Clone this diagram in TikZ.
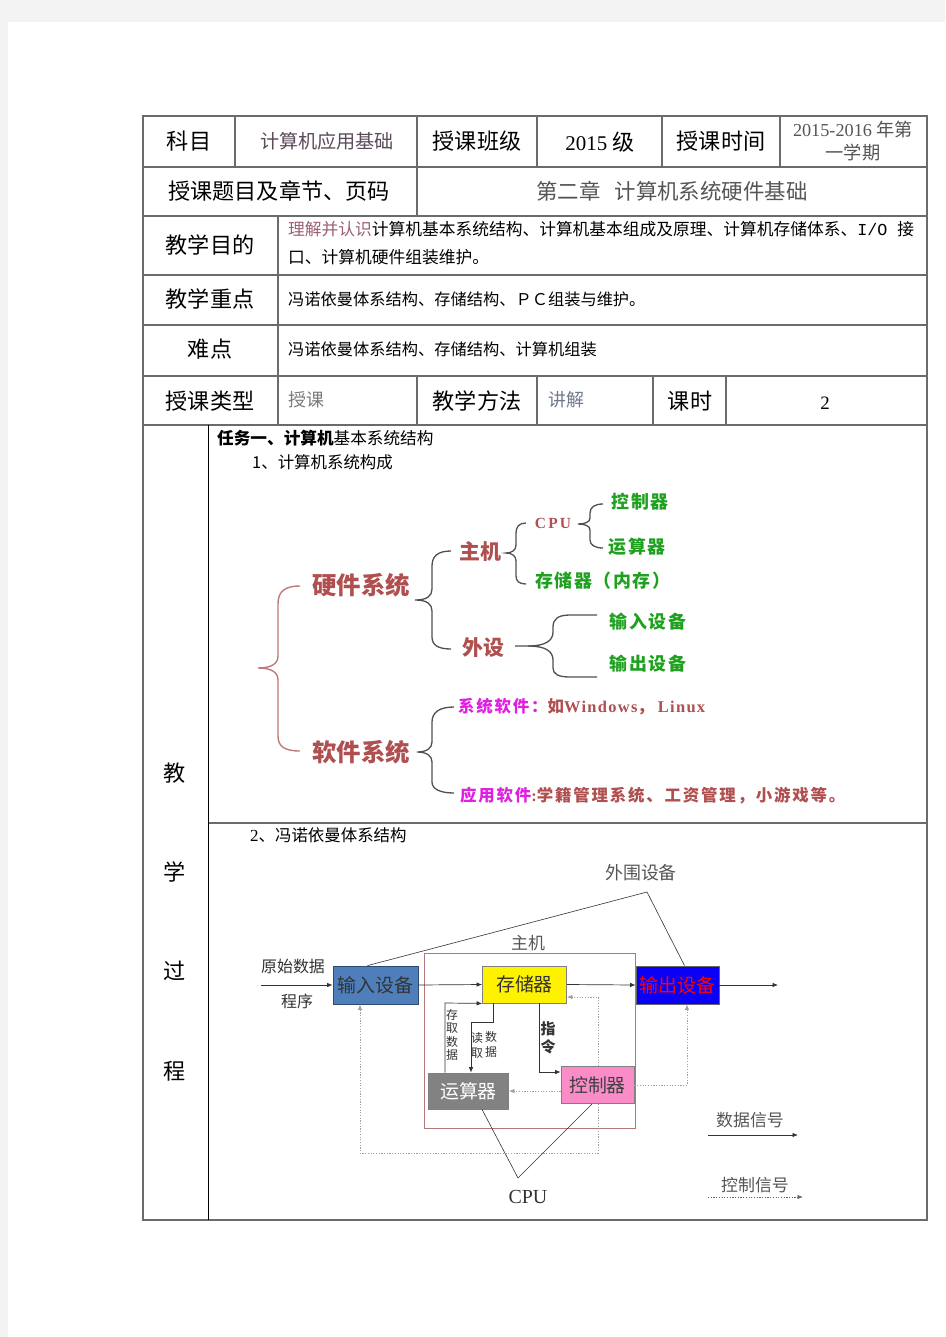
\documentclass[tikz,border=0pt]{standalone}
\usepackage{fontspec}
\setmainfont{Liberation Serif}
\newfontfamily\cjk{Noto Sans CJK SC}
\newfontfamily\cjksp{Noto Sans CJK SC}[LetterSpace=9]
\newfontfamily\cjkspb{Noto Sans CJK SC}[LetterSpace=11]
\newfontfamily\serifsp{Liberation Serif}[LetterSpace=14]
\newfontfamily\serifspb{Liberation Serif}[LetterSpace=8]
\newfontfamily\lmono{Liberation Mono}
\usetikzlibrary{arrows.meta,calc}
\newcommand\myfs[1]{\fontsize{#1}{#1}\selectfont}
\definecolor{pagegray}{HTML}{F3F3F3}
\definecolor{tblline}{HTML}{6B6B6B}
\definecolor{brred}{HTML}{B04F4F}
\definecolor{grn}{HTML}{1FA11F}
\definecolor{mag}{HTML}{E020E0}
\definecolor{txtgray}{HTML}{555555}
\definecolor{subjcol}{HTML}{5A4A5A}
\definecolor{pinkbrown}{HTML}{9A6070}
\definecolor{lightgray}{HTML}{7A7A7A}
\definecolor{bluegray}{HTML}{707A8A}
\definecolor{bigbrace}{HTML}{C27878}
\definecolor{braceg}{HTML}{505050}
\definecolor{inblue}{HTML}{4F7FBB}
\definecolor{outblue}{HTML}{0A00F5}
\definecolor{ysgray}{HTML}{828282}
\definecolor{kzpink}{HTML}{FA8CC8}
\definecolor{zjred}{HTML}{B07878}
\definecolor{dotgray}{HTML}{A0A0A0}
\definecolor{arrcol}{HTML}{333333}
\begin{document}
\begin{tikzpicture}[x=1bp,y=-1bp,
  hdr/.style={font=\cjk\myfs{22.2}, inner sep=0pt, text=black},
  cell/.style={font=\cjk\myfs{16.3}, anchor=west, inner sep=0pt, text=black},
  tbl/.style={draw=tblline, line width=1.5bp},
  bracebig/.style={draw=bigbrace, line width=1.4bp},
  braceline/.style={draw=braceg, line width=1.3bp},
  brtxt/.style={font=\cjk\bfseries\myfs{21}, text=brred, inner sep=0pt},
  gtxt/.style={font=\cjksp\bfseries\myfs{18}, text=grn, inner sep=0pt},
  swtxt/.style={font=\cjkspb\bfseries\myfs{16.5}, anchor=west, inner sep=0pt},
  lbl/.style={font=\cjk\myfs{17}, text=txtgray, inner sep=0pt},
  box/.style={draw=#1, line width=0.8bp, inner sep=0pt, font=\cjk\myfs{19}},
  arr/.style={-{Latex[length=5.5bp,width=4.5bp]}, line width=0.7bp, draw=arrcol},
  ctl/.style={-{Latex[length=5.5bp,width=4.5bp]}, line width=0.8bp, draw=dotgray, dash pattern=on 1.2bp off 1.5bp},
  plain/.style={line width=0.7bp, draw=arrcol}
]
\useasboundingbox (0,0) rectangle (945,1337);
\fill[pagegray] (0,0) rectangle (945,1337);
\fill[white] (8,22) rectangle (945,1337);

% ---------------- table ----------------
\draw[tbl] (143,116) rectangle (927,1220);
\foreach \yy in {167,216,275,325,376,425} \draw[tbl] (143,\yy) -- (927,\yy);
\draw[tbl] (208,823) -- (927,823);
\foreach \xx in {235,417,537,662,780} \draw[tbl] (\xx,116) -- (\xx,167);
\draw[tbl] (417,167) -- (417,216);
\draw[tbl] (278,216) -- (278,425);
\foreach \xx in {417,537,653,726} \draw[tbl] (\xx,376) -- (\xx,425);
\draw[black, line width=1bp] (208,425) -- (208,1220);

% row 1
\node[hdr] (kemu) at (189,141) {科目};
\node[hdr, font=\cjk\myfs{19.2}, text=subjcol] (kcname) at (327,141) {计算机应用基础};
\node[hdr] (bj) at (477,141) {授课班级};
\node[hdr] (nj) at (600,142) {{\rmfamily\myfs{21}2015 }级};
\node[hdr] (sj) at (721,141) {授课时间};
\node[hdr, align=center, font=\cjk\myfs{18.3}, text=txtgray] (xq) at (853,141)
  {{\rmfamily 2015-2016 }年第\\[4bp]一学期};
% row 2
\node[hdr] (tm) at (279,191) {授课题目及章节、页码};
\node[hdr, font=\cjk\myfs{21.5}, text=txtgray] (zj) at (672,191) {第二章\hspace{14bp}计算机系统硬件基础};
% row 3
\node[hdr] (md) at (210,245) {教学目的};
\node[cell, font=\cjk\myfs{16.8}] (md1) at (288,229) {{\color{pinkbrown}理解并认识}计算机基本系统结构、计算机基本组成及原理、计算机存储体系、{\lmono I/O }接};
\node[cell, font=\cjk\myfs{16.8}] (md2) at (288,257) {口、计算机硬件组装维护。};
% row 4
\node[hdr] (zd) at (210,299) {教学重点};
\node[cell] (zd1) at (288,299) {冯诺依曼体系结构、存储结构、ＰＣ组装与维护。};
% row 5
\node[hdr] (nd) at (210,349) {难点};
\node[cell] (nd1) at (288,349) {冯诺依曼体系结构、存储结构、计算机组装};
% row 6
\node[hdr] (lx) at (210,401) {授课类型};
\node[cell, font=\cjk\myfs{18}, text=lightgray] (lx1) at (288,400) {授课};
\node[hdr] (ff) at (477,401) {教学方法};
\node[cell, font=\cjk\myfs{18}, text=bluegray] (ff1) at (548,400) {讲解};
\node[hdr] (ks) at (690,401) {课时};
\node[hdr, font=\rmfamily\myfs{19}] (ks1) at (825,403) {2};
% left column
\node[hdr] (jx1) at (175,773) {教};
\node[hdr] (jx2) at (175,872) {学};
\node[hdr] (jx3) at (175,971) {过};
\node[hdr] (jx4) at (175,1071) {程};

% ---------------- task 1 ----------------
\node[cell, font=\cjk\myfs{16.7}] (rw1) at (217,438) {{\bfseries 任务一、计算机}基本系统结构};
\node[cell, font=\cjk\myfs{16.5}] (rw2) at (252,462) {1、计算机系统构成};

\node[brtxt, font=\cjk\bfseries\myfs{24.5}] (hw) at (361,585) {硬件系统};
\node[brtxt, font=\cjk\bfseries\myfs{24.5}] (sw) at (361,752) {软件系统};
\node[brtxt] (zhuji) at (480,551) {主机};
\node[brtxt] (waishe) at (483,648) {外设};
\node[brtxt, font=\serifsp\bfseries\myfs{15.5}] (cpu) at (553,523) {CPU};
\node[gtxt] (kzq) at (640,502) {控制器};
\node[gtxt] (ysq) at (637,547) {运算器};
\node[gtxt, anchor=west] (ccq) at (535,581) {存储器（内存）};
\node[gtxt] (srsb) at (648,622) {输入设备};
\node[gtxt] (scsb) at (648,664) {输出设备};
\node[swtxt] (xtrj) at (458,707)
  {{\color{mag}系统软件：}{\color{brred}如{\serifspb\bfseries Windows}，\hspace{4bp}{\serifspb\bfseries Linux}}};
\node[swtxt] (yyrj) at (460,796)
  {{\color{mag}应用软件}{\color{brred}{\serifspb\bfseries :}学籍管理系统、工资管理，小游戏等。}};

% braces
\draw[bracebig] (300,586) .. controls (284,586) and (278,592) .. (278,604) -- (278,656)
  .. controls (278,664) and (271,668) .. (258,668) .. controls (271,668) and (278,672) .. (278,680)
  -- (278,736) .. controls (278,746) and (284,751) .. (300,751);
\draw[braceline] (451,551) .. controls (438,551) and (432,556) .. (432,566) -- (432,589)
  .. controls (432,596) and (427,600) .. (415,600) .. controls (427,600) and (432,604) .. (432,611)
  -- (432,637) .. controls (432,645) and (438,649) .. (451,649);
\draw[braceline] (526,523) .. controls (519,523) and (516,527) .. (516,533) -- (516,545)
  .. controls (516,550) and (512,553) .. (506,553) .. controls (512,553) and (516,556) .. (516,561)
  -- (516,576) .. controls (516,581) and (519,584) .. (526,584);
\draw[braceline] (603,504) .. controls (595,504) and (590,507) .. (590,513) -- (590,518)
  .. controls (590,522) and (585,524) .. (578,524) .. controls (585,524) and (590,526) .. (590,530)
  -- (590,540) .. controls (590,545) and (595,548) .. (603,548);
\draw[braceline] (515,646) -- (528,646) .. controls (545,646) and (553,641) .. (553,632) -- (553,627)
  .. controls (553,619) and (558,615) .. (570,615) -- (597,615);
\draw[braceline] (528,646) .. controls (545,646) and (553,651) .. (553,660) -- (553,668)
  .. controls (553,674) and (558,677) .. (570,677) -- (597,677);
\draw[braceline] (454,707) .. controls (440,707) and (432,712) .. (432,722) -- (432,742)
  .. controls (432,748) and (427,752) .. (417,752) .. controls (427,752) and (432,756) .. (432,762)
  -- (432,782) .. controls (432,789) and (440,793) .. (454,793);

% ---------------- task 2 : von Neumann ----------------
\node[cell, font=\cjk\myfs{16.5}] (rw3) at (250,835) {{\rmfamily\myfs{17}2}、冯诺依曼体系结构};

\node[draw=zjred, line width=0.9bp, minimum width=211bp, minimum height=175bp, inner sep=0pt] (zjbox) at (529.5,1040.5) {};

\node[lbl, font=\cjk\myfs{18}] (wwsb) at (641,873) {外围设备};
\node[lbl] (zjlbl) at (528,943) {主机};
\node[lbl, font=\cjk\myfs{16}, text=arrcol] (ysj) at (293,966) {原始数据};
\node[lbl, font=\cjk\myfs{16}, text=arrcol] (cx) at (297,1001) {程序};

\node[box=inblue!60!black, fill=inblue, text=black!80, minimum width=85bp, minimum height=38bp] (srb) at (375.5,985) {输入设备};
\node[box=black!50, fill=yellow, text=black!80, minimum width=84bp, minimum height=37bp] (ccb) at (524.5,984.5) {存储器};
\node[box=black!60, fill=outblue, text=red, minimum width=83bp, minimum height=38bp] (scb) at (677.5,985) {输出设备};
\node[box=black!50, fill=ysgray, text=white, minimum width=80bp, minimum height=36bp] (ysb) at (468.5,1091) {运算器};
\node[box=black!50, fill=kzpink, text=black!75, minimum width=73bp, minimum height=37bp] (kzb) at (597.5,1085) {控制器};

% peripheral bracket
\coordinate (wwapex) at (647,892);
\draw[plain, line width=0.6bp] ($(srb.north)+(-8,0)$) -- (wwapex) -- ($(scb.north)+(7,0)$);

% data arrows
\coordinate (instart) at (261,985);
\coordinate (outend) at (778,985);
\draw[arr] (instart) -- (srb.west);
\draw[arr] (srb.east) -- (ccb.west);
\draw[arr] (ccb.east) -- (scb.west);
\draw[arr] (scb.east) -- (outend);

\coordinate (p1) at (445,1003);
\draw[arr] (ysb.north -| p1) -- (p1) -- (ccb.south west);
\coordinate (p2) at (493,1022);
\coordinate (p3) at (471,1022);
\draw[arr] (ccb.south -| p2) -- (p2) -- (p3) -- (ysb.north -| p3);
\coordinate (p4) at (539,1072);
\draw[arr] (ccb.south -| p4) -- (p4) -- (kzb.west |- p4);

% control arrows
\draw[ctl] (kzb.west |- ysb.east) -- (ysb.east);
\coordinate (q1) at (687,1085);
\draw[ctl] (kzb.east |- q1) -- (q1) -- (scb.south -| q1);
\coordinate (q2) at (598,997);
\coordinate (q3) at (598,1153);
\coordinate (q4) at (360,1153);
\draw[ctl] (kzb.north -| q2) -- (q2) -- (ccb.east |- q2);
\draw[ctl] (kzb.south -| q3) -- (q3) -- (q4) -- (srb.south -| q4);

% vertical labels
\node[inner sep=0pt, align=center, font=\cjk\fontsize{12}{13.5}\selectfont, text=arrcol] (cqsj) at (452,1035) {存\\取\\数\\据};
\node[inner sep=0pt, align=center, font=\cjk\fontsize{12}{15}\selectfont, text=arrcol] (dq) at (477,1045) {读\\取};
\node[inner sep=0pt, align=center, font=\cjk\fontsize{12}{15}\selectfont, text=arrcol] (sjl) at (491,1044) {数\\据};
\node[inner sep=0pt, align=center, font=\cjk\bfseries\fontsize{15}{18}\selectfont, text=arrcol] (zl) at (548,1038) {指\\令};

% CPU bracket
\coordinate (cpuv) at (518,1178);
\draw[plain, line width=0.6bp] ($(ysb.south)+(13.5,0)$) -- (cpuv) -- ($(kzb.south)+(-5.5,0)$);
\node[inner sep=0pt, font=\rmfamily\myfs{20}, text=arrcol] (cpulbl) at (528,1197) {CPU};

% legend
\node[lbl] (sjxh) at (750,1120) {数据信号};
\coordinate (lg1a) at (708,1135);
\coordinate (lg1b) at (798,1135);
\draw[arr] (lg1a) -- (lg1b);
\node[lbl] (kzxh) at (755,1185) {控制信号};
\coordinate (lg2a) at (708,1197);
\coordinate (lg2b) at (803,1197);
\draw[ctl, draw=black!60] (lg2a) -- (lg2b);
\end{tikzpicture}
\end{document}
